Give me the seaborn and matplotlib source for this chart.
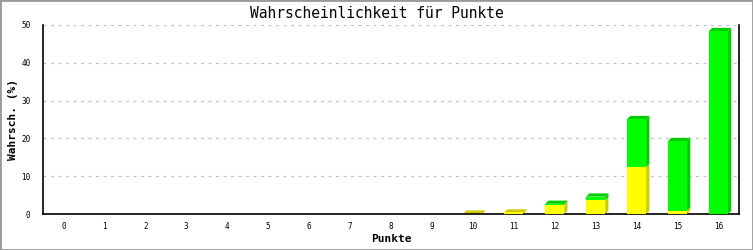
import matplotlib
matplotlib.use("Agg")
import matplotlib.pyplot as plt
import seaborn as sns
import pandas as pd
import numpy as np
from matplotlib.patches import Polygon, Rectangle

sns.set_style("white")
plt.rcParams['font.family'] = ['DejaVu Sans Mono', 'DejaVu Sans']
plt.rcParams['text.color'] = 'black'
plt.rcParams['axes.labelcolor'] = 'black'
plt.rcParams['xtick.color'] = 'black'
plt.rcParams['ytick.color'] = 'black'

categories = [str(i) for i in range(17)]
yellow_vals = [0, 0, 0, 0, 0, 0, 0, 0, 0, 0, 0.1, 0.4, 2.5, 3.6, 12.4, 0.9, 0.0]
green_vals = [0, 0, 0, 0, 0, 0, 0, 0, 0, 0, 0, 0, 0.2, 1.0, 12.7, 18.4, 48.4]

title = "Wahrscheinlichkeit für Punkte"
xlabel = "Punkte"
ylabel = "Wahrsch. (%)"

totals = [y + g for y, g in zip(yellow_vals, green_vals)]
df = pd.DataFrame({"cat": categories, "yellow": yellow_vals, "total": totals})

W, H = 753, 250
fig = plt.figure(figsize=(W / 100, H / 100), dpi=100)
AX_L, AX_R, AX_T, AX_B = 43, 739, 25, 214
ax = fig.add_axes([AX_L / W, (H - AX_B) / H, (AX_R - AX_L) / W, (AX_B - AX_T) / H])

YEL, YEL_D = "#ffff00", "#cccc00"
GRN, GRN_D = "#00ff00", "#00cc00"
bw = 0.465
sns.barplot(data=df, x="cat", y="total", color=GRN, saturation=1, width=bw, ax=ax,
            linewidth=0, zorder=3)
sns.barplot(data=df, x="cat", y="yellow", color=YEL, saturation=1, width=bw, ax=ax,
            linewidth=0, zorder=4)

ax.set_xlim(-0.5, 16.5)
ax.set_ylim(0, 50)
ax.set_yticks([0, 10, 20, 30, 40, 50])
ax.yaxis.grid(True, color="#c4c4c4", linestyle=(0, (2.5, 3.5)), linewidth=0.9)
ax.set_axisbelow(True)

fig.canvas.draw()
d = 3.2  # pixel depth of 3D effect
to_disp = ax.transData.transform
for i, (yv, gv) in enumerate(zip(yellow_vals, green_vals)):
    x0, x1 = i - bw / 2, i + bw / 2
    segs = []
    if yv > 0:
        segs.append((0, yv, YEL_D))
    if gv > 0:
        segs.append((yv, yv + gv, GRN_D))
    if not segs:
        continue
    for k, (b, t, col) in enumerate(segs):
        (px0, py0) = to_disp((x0, b))
        (px1, py1) = to_disp((x1, t))
        side = Polygon([(px1, py0), (px1 + d, py0 + d), (px1 + d, py1 + d), (px1, py1)],
                       closed=True, transform=None, facecolor=col, edgecolor="none", zorder=2.5)
        ax.add_artist(side)
        side.set_clip_on(False)
        if k == len(segs) - 1:
            top = Polygon([(px0, py1), (px0 + d, py1 + d), (px1 + d, py1 + d), (px1, py1)],
                          closed=True, transform=None, facecolor=col, edgecolor="none", zorder=2.5)
            ax.add_artist(top)
            top.set_clip_on(False)

ax.spines["top"].set_visible(False)
for s in ["left", "bottom", "right"]:
    ax.spines[s].set_color("black")
    ax.spines[s].set_linewidth(1.2)

ax.tick_params(axis="y", direction="out", length=6, width=1, color="black", labelsize=5.5, pad=3)
ax.tick_params(axis="x", length=0, labelsize=5.5, pad=6)
ax.set_xlabel(xlabel, fontsize=8, fontweight="bold")
ax.set_ylabel(ylabel, fontsize=8, fontweight="bold")
ax.xaxis.set_label_coords(0.5, (AX_B - 239) / (AX_B - AX_T))
ax.yaxis.set_label_coords((13 - AX_L) / (AX_R - AX_L), 0.5)
ax.xaxis.label.set_va("center")
ax.yaxis.label.set_va("center")
fig.text(0.5, 1 - 13 / H, title, ha="center", va="center", fontsize=10.5, color="black")

fig.patches.append(Rectangle((0, 0), 1, 1, transform=fig.transFigure, fill=False,
                             edgecolor="#999999", linewidth=2))

fig.savefig("out.png", dpi=100)
